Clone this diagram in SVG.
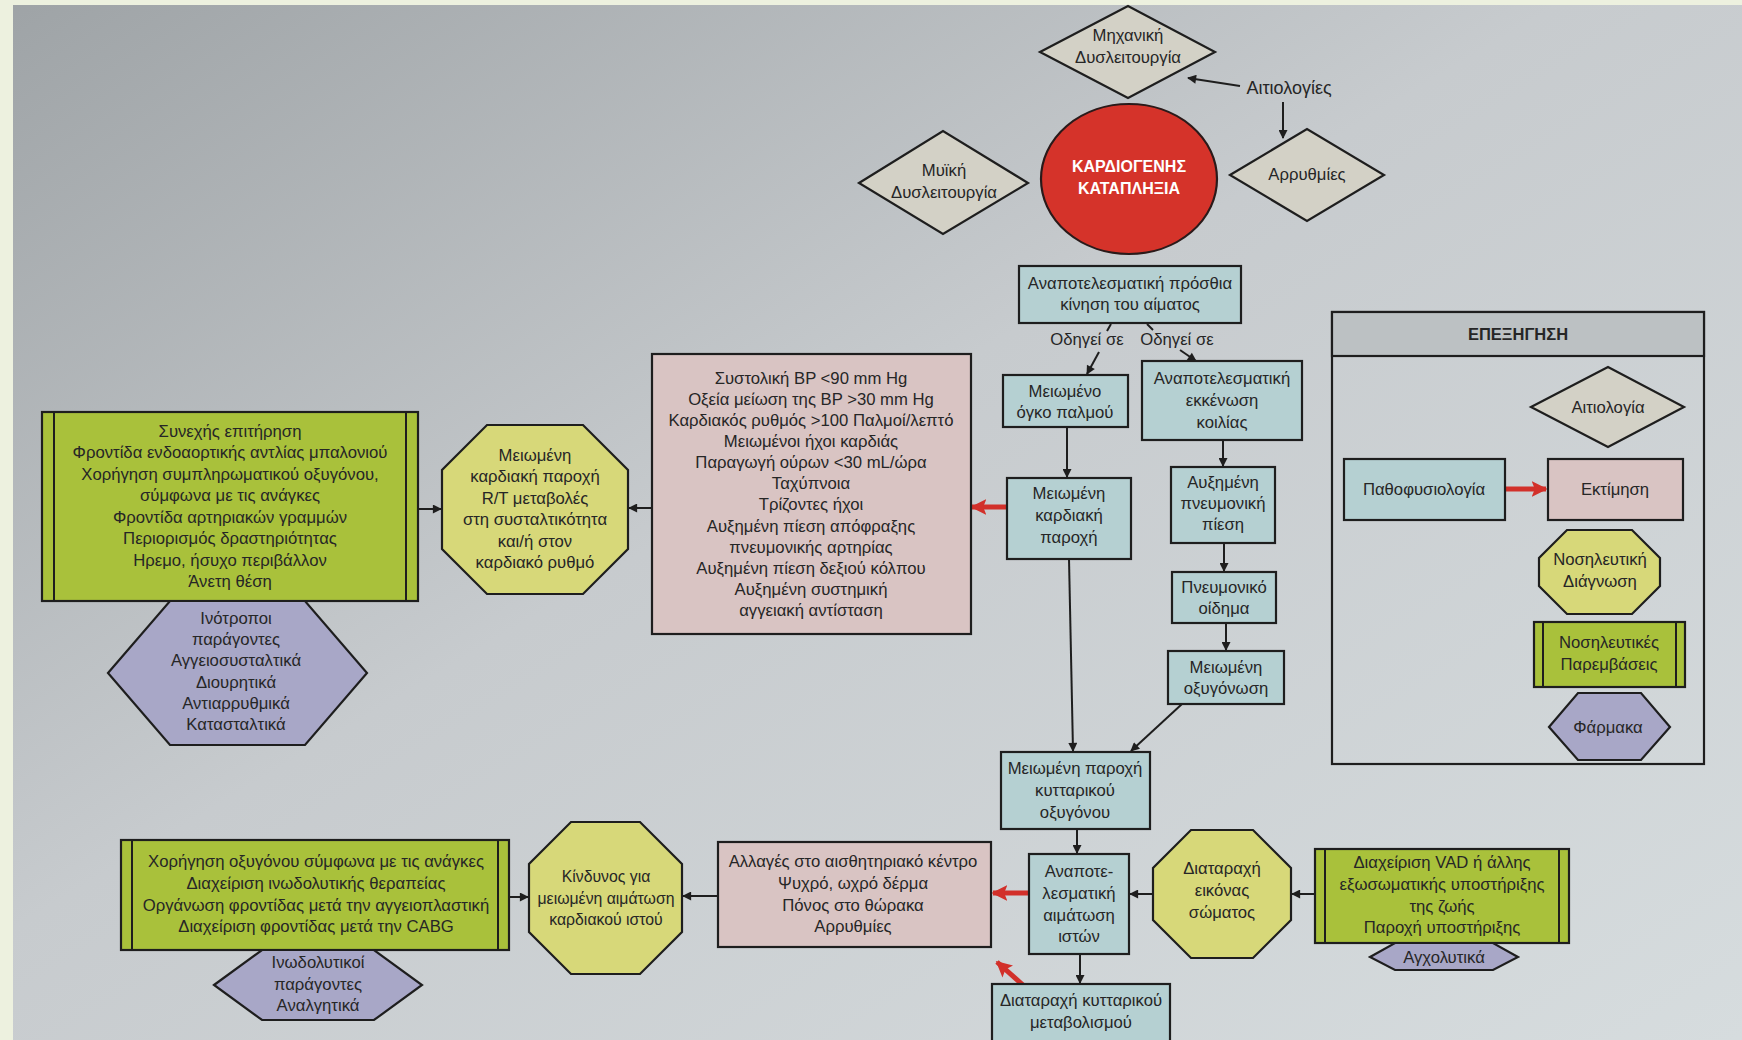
<svg xmlns="http://www.w3.org/2000/svg" width="1742" height="1040" viewBox="0 0 1742 1040">
<defs>
<linearGradient id="bg" x1="0" y1="0" x2="1" y2="1">
<stop offset="0" stop-color="#9ea3a6"/>
<stop offset="0.45" stop-color="#c7cbce"/>
<stop offset="1" stop-color="#d6dcde"/>
</linearGradient>
<marker id="ah" viewBox="0 0 10 10" refX="9" refY="5" markerWidth="11" markerHeight="9" markerUnits="userSpaceOnUse" orient="auto">
<path d="M0,0 L10,5 L0,10 z" fill="#1e1e1e"/>
</marker>
<marker id="rh" viewBox="0 0 10 10" refX="9" refY="5" markerWidth="16" markerHeight="16" markerUnits="userSpaceOnUse" orient="auto">
<path d="M0,0 L10,5 L0,10 L2,5 z" fill="#d2302a"/>
</marker>
<style>
text{font-family:"Liberation Sans",Arial,sans-serif;font-size:16.7px;fill:#262626;text-anchor:middle}
.b{stroke:#1e1e1e;stroke-width:2.2}
.teal{fill:#b5d0d2}
.pink{fill:#d9c4c3}
.grn{fill:#a9c13b}
.oct{fill:#d7d879}
.pur{fill:#a8a7c7}
.dia{fill:#d3d1c6}
.bar{stroke:#1e1e1e;stroke-width:2}
.ln{stroke:#1e1e1e;stroke-width:2;fill:none;marker-end:url(#ah)}
.pl{stroke:#1e1e1e;stroke-width:2;fill:none}
.rd{stroke:#d2302a;stroke-width:5;fill:none;marker-end:url(#rh)}
.w{fill:#ffffff;font-weight:bold;font-size:16px}
.hd{font-weight:bold;font-size:16.5px}
.big{font-size:18px}
.sm{font-size:15.8px}
</style>
</defs>
<rect x="0" y="0" width="1742" height="1040" fill="url(#bg)"/>
<rect x="0" y="0" width="1742" height="5" fill="#edf1df"/>
<rect x="0" y="0" width="13" height="1040" fill="#edf1df"/>

<g id="connectors">
<line class="ln" x1="1240" y1="86" x2="1188" y2="78"/>
<line class="ln" x1="1283" y1="102" x2="1283" y2="138"/>
<line class="pl" x1="1111" y1="324" x2="1107" y2="331"/>
<line class="ln" x1="1099" y1="352" x2="1087" y2="374"/>
<line class="pl" x1="1147" y1="324" x2="1153" y2="330"/>
<line class="ln" x1="1180" y1="350" x2="1196" y2="361"/>
<line class="ln" x1="1067" y1="427" x2="1067" y2="477"/>
<line class="ln" x1="1223" y1="440" x2="1223" y2="466"/>
<line class="ln" x1="1224" y1="543" x2="1224" y2="571"/>
<line class="ln" x1="1226" y1="623" x2="1226" y2="650"/>
<line class="ln" x1="1069" y1="559" x2="1073" y2="751"/>
<line class="ln" x1="1182" y1="704" x2="1131" y2="751"/>
<line class="ln" x1="1077" y1="829" x2="1077" y2="853"/>
<line class="ln" x1="1080" y1="954" x2="1080" y2="983"/>
<line class="ln" x1="1153" y1="894" x2="1130" y2="894"/>
<line class="ln" x1="1315" y1="894" x2="1292" y2="894"/>
<line class="ln" x1="718" y1="896" x2="683" y2="896"/>
<line class="ln" x1="509" y1="897" x2="528" y2="897"/>
<line class="ln" x1="652" y1="508" x2="629" y2="508"/>
<line class="ln" x1="418" y1="509" x2="441" y2="509"/>
<line class="rd" x1="1007" y1="507" x2="972" y2="507"/>
<line class="rd" x1="1029" y1="893" x2="993" y2="893"/>
<line class="rd" x1="1023" y1="985" x2="997" y2="962"/>
<line class="rd" x1="1505" y1="489" x2="1546" y2="489"/>
</g>

<g id="mechanical">
<polygon class="dia b" points="1040,52 1128,6 1215,52 1128,98"/>
<text x="1128" y="41">Μηχανική</text>
<text x="1128" y="63">Δυσλειτουργία</text>
</g>
<g id="causes-label"><text class="big" x="1289" y="94">Αιτιολογίες</text></g>
<g id="arrhythmias">
<polygon class="dia b" points="1230,175 1307,129 1384,175 1307,221"/>
<text x="1307" y="180">Αρρυθμίες</text>
</g>
<g id="muscular">
<polygon class="dia b" points="859,183 943,131 1028,183 943,234"/>
<text x="944" y="176">Μυϊκή</text>
<text x="944" y="198">Δυσλειτουργία</text>
</g>
<g id="shock">
<ellipse cx="1129" cy="179" rx="88" ry="75" fill="#d5332a" stroke="#2a1a1a" stroke-width="2.2"/>
<text class="w" x="1129" y="172">ΚΑΡΔΙΟΓΕΝΗΣ</text>
<text class="w" x="1129" y="194">ΚΑΤΑΠΛΗΞΙΑ</text>
</g>

<g id="ineffective-flow">
<rect class="teal b" x="1019" y="266" width="222" height="57"/>
<text x="1130" y="289">Αναποτελεσματική πρόσθια</text>
<text x="1130" y="310">κίνηση του αίματος</text>
</g>
<g id="leads-labels">
<text x="1087" y="345">Οδηγεί σε</text>
<text x="1177" y="345">Οδηγεί σε</text>
</g>
<g id="stroke-volume">
<rect class="teal b" x="1003" y="375" width="125" height="52"/>
<text x="1065" y="397">Μειωμένο</text>
<text x="1065" y="418">όγκο παλμού</text>
</g>
<g id="emptying">
<rect class="teal b" x="1142" y="361" width="160" height="79"/>
<text x="1222" y="384">Αναποτελεσματική</text>
<text x="1222" y="406">εκκένωση</text>
<text x="1222" y="428">κοιλίας</text>
</g>
<g id="cardiac-output">
<rect class="teal b" x="1007" y="478" width="124" height="81"/>
<text x="1069" y="499">Μειωμένη</text>
<text x="1069" y="521">καρδιακή</text>
<text x="1069" y="543">παροχή</text>
</g>
<g id="pulm-pressure">
<rect class="teal b" x="1171" y="467" width="104" height="76"/>
<text x="1223" y="488">Αυξημένη</text>
<text x="1223" y="509">πνευμονική</text>
<text x="1223" y="530">πίεση</text>
</g>
<g id="edema">
<rect class="teal b" x="1172" y="572" width="104" height="51"/>
<text x="1224" y="593">Πνευμονικό</text>
<text x="1224" y="614">οίδημα</text>
</g>
<g id="oxygenation">
<rect class="teal b" x="1168" y="651" width="116" height="53"/>
<text x="1226" y="673">Μειωμένη</text>
<text x="1226" y="694">οξυγόνωση</text>
</g>
<g id="cell-oxygen">
<rect class="teal b" x="1001" y="752" width="149" height="77"/>
<text x="1075" y="774">Μειωμένη παροχή</text>
<text x="1075" y="796">κυτταρικού</text>
<text x="1075" y="818">οξυγόνου</text>
</g>
<g id="tissue-perfusion">
<rect class="teal b" x="1029" y="854" width="100" height="100"/>
<text x="1079" y="877">Αναποτε-</text>
<text x="1079" y="899">λεσματική</text>
<text x="1079" y="921">αιμάτωση</text>
<text x="1079" y="942">ιστών</text>
</g>
<g id="metabolism">
<rect class="teal b" x="992" y="984" width="178" height="70"/>
<text x="1081" y="1006">Διαταραχή κυτταρικού</text>
<text x="1081" y="1028">μεταβολισμού</text>
</g>
<g id="body-image">
<polygon class="oct b" points="1191,830 1253,830 1291,868 1291,920 1253,958 1191,958 1153,920 1153,868"/>
<text x="1222" y="874">Διαταραχή</text>
<text x="1222" y="896">εικόνας</text>
<text x="1222" y="918">σώματος</text>
</g>
<g id="vad">
<rect class="grn b" x="1315" y="849" width="254" height="94"/>
<line class="bar" x1="1325" y1="849" x2="1325" y2="943"/>
<line class="bar" x1="1559" y1="849" x2="1559" y2="943"/>
<text x="1442" y="868">Διαχείριση VAD ή άλλης</text>
<text x="1442" y="890">εξωσωματικής υποστήριξης</text>
<text x="1442" y="912">της ζωής</text>
<text x="1442" y="933">Παροχή υποστήριξης</text>
</g>
<g id="anxiolytics">
<polygon class="pur b" points="1370,957 1395,943 1493,943 1518,957 1493,970 1395,970"/>
<text x="1444" y="963">Αγχολυτικά</text>
</g>
<g id="changes">
<rect class="pink b" x="718" y="842" width="273" height="105"/>
<text x="853" y="867">Αλλαγές στο αισθητηριακό κέντρο</text>
<text x="853" y="889">Ψυχρό, ωχρό δέρμα</text>
<text x="853" y="911">Πόνος στο θώρακα</text>
<text x="853" y="932">Αρρυθμίες</text>
</g>
<g id="risk">
<polygon class="oct b" points="571,822 640,822 682,864 682,932 640,974 571,974 529,932 529,864"/>
<text class="sm" x="606" y="882">Κίνδυνος για</text>
<text class="sm" x="606" y="904">μειωμένη αιμάτωση</text>
<text class="sm" x="606" y="925">καρδιακού ιστού</text>
</g>
<g id="interventions-2">
<rect class="grn b" x="121" y="840" width="388" height="110"/>
<line class="bar" x1="132" y1="840" x2="132" y2="950"/>
<line class="bar" x1="498" y1="840" x2="498" y2="950"/>
<text x="316" y="867">Χορήγηση οξυγόνου σύμφωνα με τις ανάγκες</text>
<text x="316" y="889">Διαχείριση ινωδολυτικής θεραπείας</text>
<text x="316" y="911">Οργάνωση φροντίδας μετά την αγγειοπλαστική</text>
<text x="316" y="932">Διαχείριση φροντίδας μετά την CABG</text>
</g>
<g id="drugs-2">
<polygon class="pur b" points="214,985 262,950 374,950 422,985 374,1020 262,1020"/>
<text x="318" y="968">Ινωδολυτικοί</text>
<text x="318" y="990">παράγοντες</text>
<text x="318" y="1011">Αναλγητικά</text>
</g>
<g id="assessment-1">
<rect class="pink b" x="652" y="354" width="319" height="280"/>
<text x="811" y="384">Συστολική BP &lt;90 mm Hg</text>
<text x="811" y="405">Οξεία μείωση της BP &gt;30 mm Hg</text>
<text x="811" y="426">Καρδιακός ρυθμός &gt;100 Παλμοί/λεπτό</text>
<text x="811" y="447">Μειωμένοι ήχοι καρδιάς</text>
<text x="811" y="468">Παραγωγή ούρων &lt;30 mL/ώρα</text>
<text x="811" y="489">Ταχύπνοια</text>
<text x="811" y="510">Τρίζοντες ήχοι</text>
<text x="811" y="532">Αυξημένη πίεση απόφραξης</text>
<text x="811" y="553">πνευμονικής αρτηρίας</text>
<text x="811" y="574">Αυξημένη πίεση δεξιού κόλπου</text>
<text x="811" y="595">Αυξημένη συστημική</text>
<text x="811" y="616">αγγειακή αντίσταση</text>
</g>
<g id="diagnosis-1">
<polygon class="oct b" points="487,425 583,425 628,470 628,549 583,594 487,594 442,549 442,470"/>
<text x="535" y="461">Μειωμένη</text>
<text x="535" y="482">καρδιακή παροχή</text>
<text x="535" y="504">R/T μεταβολές</text>
<text x="535" y="525">στη συσταλτικότητα</text>
<text x="535" y="547">και/ή στον</text>
<text x="535" y="568">καρδιακό ρυθμό</text>
</g>
<g id="interventions-1">
<rect class="grn b" x="42" y="412" width="376" height="189"/>
<line class="bar" x1="54" y1="412" x2="54" y2="601"/>
<line class="bar" x1="406" y1="412" x2="406" y2="601"/>
<text x="230" y="437">Συνεχής επιτήρηση</text>
<text x="230" y="458">Φροντίδα ενδοαορτικής αντλίας μπαλονιού</text>
<text x="230" y="480">Χορήγηση συμπληρωματικού οξυγόνου,</text>
<text x="230" y="501">σύμφωνα με τις ανάγκες</text>
<text x="230" y="523">Φροντίδα αρτηριακών γραμμών</text>
<text x="230" y="544">Περιορισμός δραστηριότητας</text>
<text x="230" y="566">Ηρεμο, ήσυχο περιβάλλον</text>
<text x="230" y="587">Άνετη θέση</text>
</g>
<g id="drugs-1">
<polygon class="pur b" points="108,673 170,601 305,601 367,673 305,745 170,745"/>
<text x="236" y="624">Ινότροποι</text>
<text x="236" y="645">παράγοντες</text>
<text x="236" y="666">Αγγειοσυσταλτικά</text>
<text x="236" y="688">Διουρητικά</text>
<text x="236" y="709">Αντιαρρυθμικά</text>
<text x="236" y="730">Κατασταλτικά</text>
</g>

<g id="legend">
<rect x="1332" y="312" width="372" height="452" fill="none" class="b"/>
<rect x="1332" y="312" width="372" height="44" fill="#bcc1c3" class="b"/>
<text class="hd" x="1518" y="340">ΕΠΕΞΗΓΗΣΗ</text>
<g id="legend-cause">
<polygon class="dia b" points="1531,407 1608,367 1684,407 1608,447"/>
<text x="1608" y="413">Αιτιολογία</text>
</g>
<g id="legend-patho">
<rect class="teal b" x="1344" y="459" width="161" height="61"/>
<text x="1424" y="495">Παθοφυσιολογία</text>
</g>
<g id="legend-assess">
<rect class="pink b" x="1548" y="459" width="135" height="61"/>
<text x="1615" y="495">Εκτίμηση</text>
</g>
<g id="legend-diag">
<polygon class="oct b" points="1567,530 1632,530 1660,558 1660,586 1632,614 1567,614 1539,586 1539,558"/>
<text x="1600" y="565">Νοσηλευτική</text>
<text x="1600" y="587">Διάγνωση</text>
</g>
<g id="legend-interv">
<rect class="grn b" x="1534" y="622" width="151" height="65"/>
<line class="bar" x1="1543" y1="622" x2="1543" y2="687"/>
<line class="bar" x1="1676" y1="622" x2="1676" y2="687"/>
<text x="1609" y="648">Νοσηλευτικές</text>
<text x="1609" y="670">Παρεμβάσεις</text>
</g>
<g id="legend-drugs">
<polygon class="pur b" points="1549,727 1578,693 1641,693 1670,727 1641,760 1578,760"/>
<text x="1608" y="733">Φάρμακα</text>
</g>
</g>
</svg>
